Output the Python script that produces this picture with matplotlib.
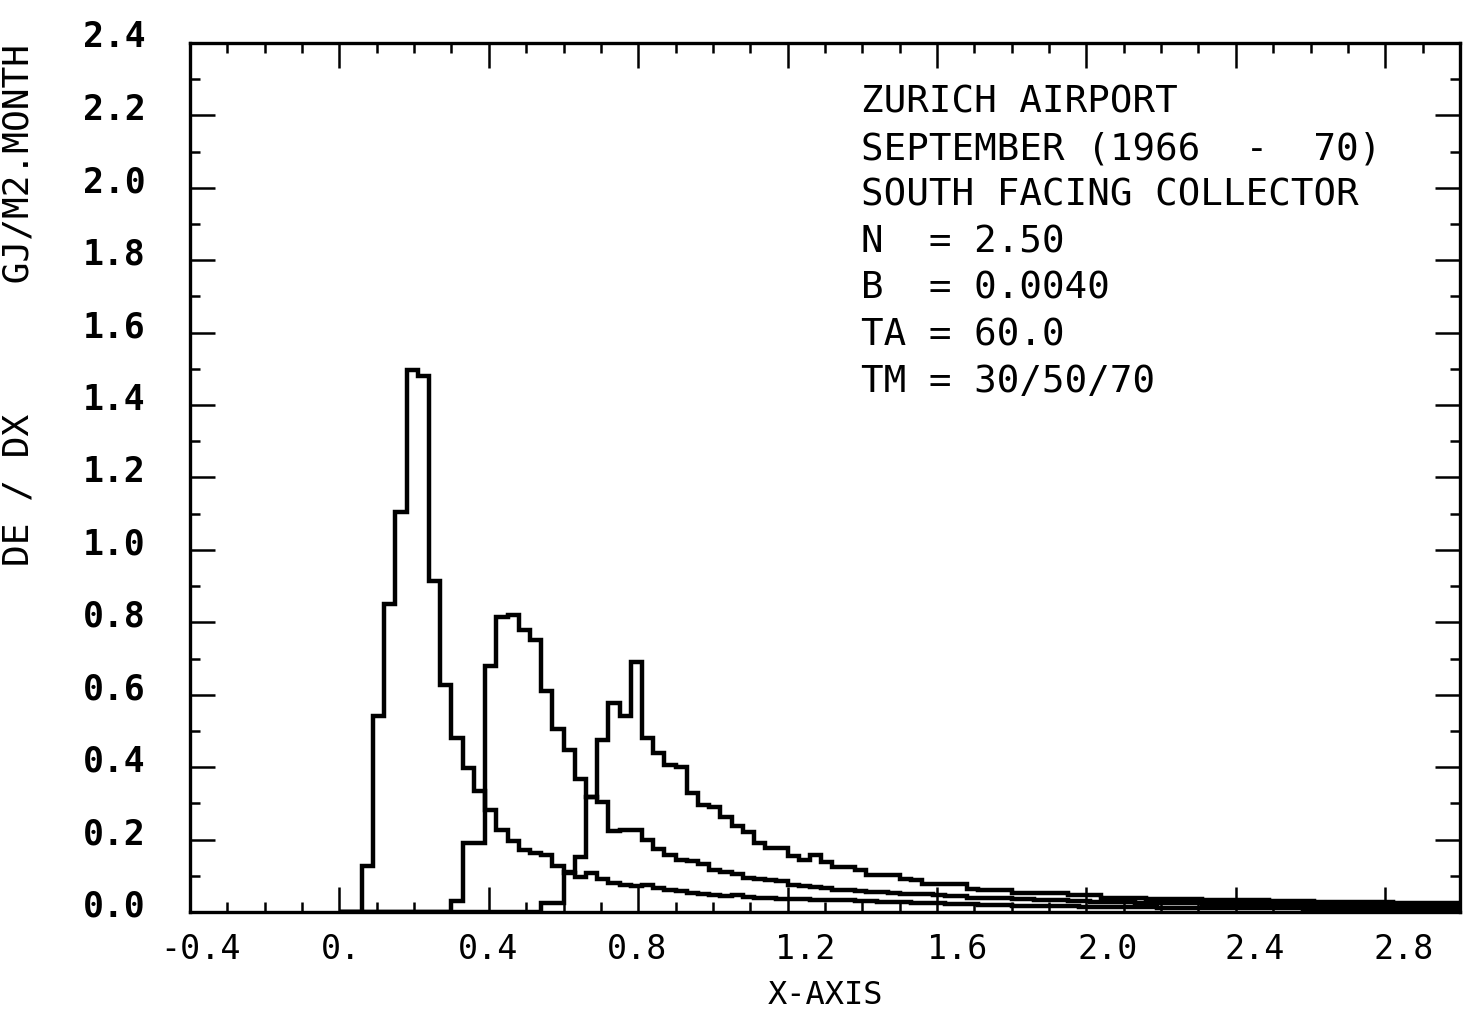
import numpy as np
import matplotlib
matplotlib.use('Agg')
from matplotlib import pyplot as plt
from matplotlib.ticker import MultipleLocator
from matplotlib.transforms import ScaledTranslation

# Bin edges of the step curves (width 0.03, from 0 to 3.0)
edges = np.round(np.arange(0, 3.0001, 0.03), 2)

# DE/DX per bin for the three collector temperatures TM = 30 / 50 / 70
tm30 = [0, 0, 0.128, 0.54, 0.85, 1.105, 1.497, 1.48, 0.913, 0.628,
        0.481, 0.398, 0.334, 0.282, 0.226, 0.196, 0.172, 0.162, 0.157, 0.128,
        0.108, 0.096, 0.107, 0.09, 0.08, 0.075, 0.072, 0.075, 0.065, 0.061,
        0.057, 0.052, 0.05, 0.046, 0.044, 0.046, 0.042, 0.04, 0.038, 0.037,
        0.036, 0.035, 0.034, 0.033, 0.033, 0.032, 0.031, 0.03, 0.029, 0.028,
        0.027, 0.026, 0.025, 0.024, 0.023, 0.022, 0.021, 0.02, 0.02, 0.019,
        0.018, 0.018, 0.017, 0.017, 0.016, 0.016, 0.015, 0.015, 0.014, 0.014,
        0.013, 0.013, 0.013, 0.012, 0.012, 0.012, 0.011, 0.011, 0.011, 0.011,
        0.01, 0.01, 0.01, 0.01, 0.01, 0.01, 0.009, 0.009, 0.009, 0.009,
        0.009, 0.009, 0.009, 0.008, 0.008, 0.008, 0.008, 0.008, 0.008, 0.008]

tm50 = [0, 0, 0, 0, 0, 0, 0, 0, 0, 0,
        0.03, 0.19, 0.19, 0.68, 0.815, 0.82, 0.78, 0.75, 0.61, 0.505,
        0.447, 0.368, 0.318, 0.305, 0.225, 0.226, 0.226, 0.198, 0.175, 0.157,
        0.144, 0.14, 0.132, 0.116, 0.11, 0.105, 0.094, 0.09, 0.088, 0.085,
        0.075, 0.072, 0.07, 0.066, 0.062, 0.06, 0.058, 0.055, 0.054, 0.052,
        0.05, 0.05, 0.05, 0.048, 0.045, 0.045, 0.04, 0.04, 0.039, 0.038,
        0.036, 0.035, 0.034, 0.033, 0.032, 0.03, 0.03, 0.029, 0.028, 0.028,
        0.027, 0.026, 0.026, 0.025, 0.025, 0.024, 0.024, 0.023, 0.023, 0.022,
        0.022, 0.021, 0.021, 0.02, 0.02, 0.02, 0.019, 0.019, 0.018, 0.018,
        0.018, 0.017, 0.017, 0.017, 0.016, 0.016, 0.016, 0.015, 0.015, 0.015]

tm70 = [0, 0, 0, 0, 0, 0, 0, 0, 0, 0,
        0, 0, 0, 0, 0, 0, 0, 0, 0.025, 0.025,
        0.11, 0.153, 0.318, 0.475, 0.577, 0.54, 0.69, 0.48, 0.44, 0.405,
        0.40, 0.33, 0.296, 0.29, 0.262, 0.237, 0.222, 0.19, 0.177, 0.177,
        0.155, 0.144, 0.157, 0.138, 0.125, 0.125, 0.116, 0.102, 0.102, 0.102,
        0.09, 0.088, 0.077, 0.077, 0.077, 0.077, 0.063, 0.061, 0.061, 0.061,
        0.052, 0.052, 0.052, 0.052, 0.052, 0.047, 0.047, 0.047, 0.04, 0.04,
        0.039, 0.038, 0.037, 0.037, 0.036, 0.035, 0.035, 0.034, 0.034, 0.033,
        0.033, 0.032, 0.032, 0.031, 0.031, 0.03, 0.03, 0.029, 0.029, 0.028,
        0.028, 0.028, 0.027, 0.027, 0.026, 0.026, 0.026, 0.025, 0.025, 0.025]

xticks = [-0.4, 0.0, 0.4, 0.8, 1.2, 1.6, 2.0, 2.4, 2.8]
xtick_labels = ['-0.4', '0.', '0.4', '0.8', '1.2', '1.6', '2.0', '2.4', '2.8']
yticks = [0.0, 0.2, 0.4, 0.6, 0.8, 1.0, 1.2, 1.4, 1.6, 1.8, 2.0, 2.2, 2.4]
ytick_labels = ['0.0', '0.2', '0.4', '0.6', '0.8', '1.0', '1.2', '1.4',
                '1.6', '1.8', '2.0', '2.2', '2.4']

info_lines = ['ZURICH AIRPORT',
              'SEPTEMBER (1966  -  70)',
              'SOUTH FACING COLLECTOR',
              'N  = 2.50',
              'B  = 0.0040',
              'TA = 60.0',
              'TM = 30/50/70']

mono = 'DejaVu Sans Mono'

fig = plt.figure(figsize=(14.63, 10.11), dpi=100)
ax = fig.add_axes([0.1299, 0.0979, 0.868, 0.8596])

for vals in (tm30, tm50, tm70):
    ax.stairs(vals, edges, color='black', linewidth=3.2, baseline=0)

ax.set_xlim(-0.4, 3.0)
ax.set_ylim(0, 2.4)

ax.set_xticks(xticks)
ax.set_xticklabels(xtick_labels, fontsize=24, family=mono)
ax.set_yticks(yticks)
ax.set_yticklabels(ytick_labels, fontsize=25, family=mono, fontweight='bold')
ax.xaxis.set_minor_locator(MultipleLocator(0.1))
ax.yaxis.set_minor_locator(MultipleLocator(0.1))

ax.tick_params(which='both', direction='in', top=True, right=True, width=1.8)
ax.tick_params(which='major', length=18)
ax.tick_params(which='minor', length=7)
ax.tick_params(axis='y', pad=32)
ax.tick_params(axis='x', pad=15)
for sp in ax.spines.values():
    sp.set_linewidth(2.4)

# old plotter labels sit a bit off their ticks
x_shift = [10, 2, -1, -1, 18, 20, 21, 19, 18]
for lab, dx in zip(ax.get_xticklabels(), x_shift):
    lab.set_transform(lab.get_transform() + ScaledTranslation(dx / 100, 0, fig.dpi_scale_trans))
for lab in ax.get_yticklabels():
    lab.set_transform(lab.get_transform() + ScaledTranslation(0, 9 / 100, fig.dpi_scale_trans))

ax.set_xlabel('X-AXIS', fontsize=23, family=mono, labelpad=10)
fig.text(36 / 1463, 0.698, 'DE / DX      GJ/M2.MONTH', rotation=90,
         fontsize=26, family=mono, ha='right', va='center')

# info block in the upper right
baselines = [113, 159.5, 206, 252.5, 299, 345.5, 392]
for txt, yb in zip(info_lines, baselines):
    ax.text(0.528, (912 - yb) / 869, txt, transform=ax.transAxes,
            fontsize=27, family=mono, va='baseline', ha='left')

plt.savefig('out.png', dpi=100)
